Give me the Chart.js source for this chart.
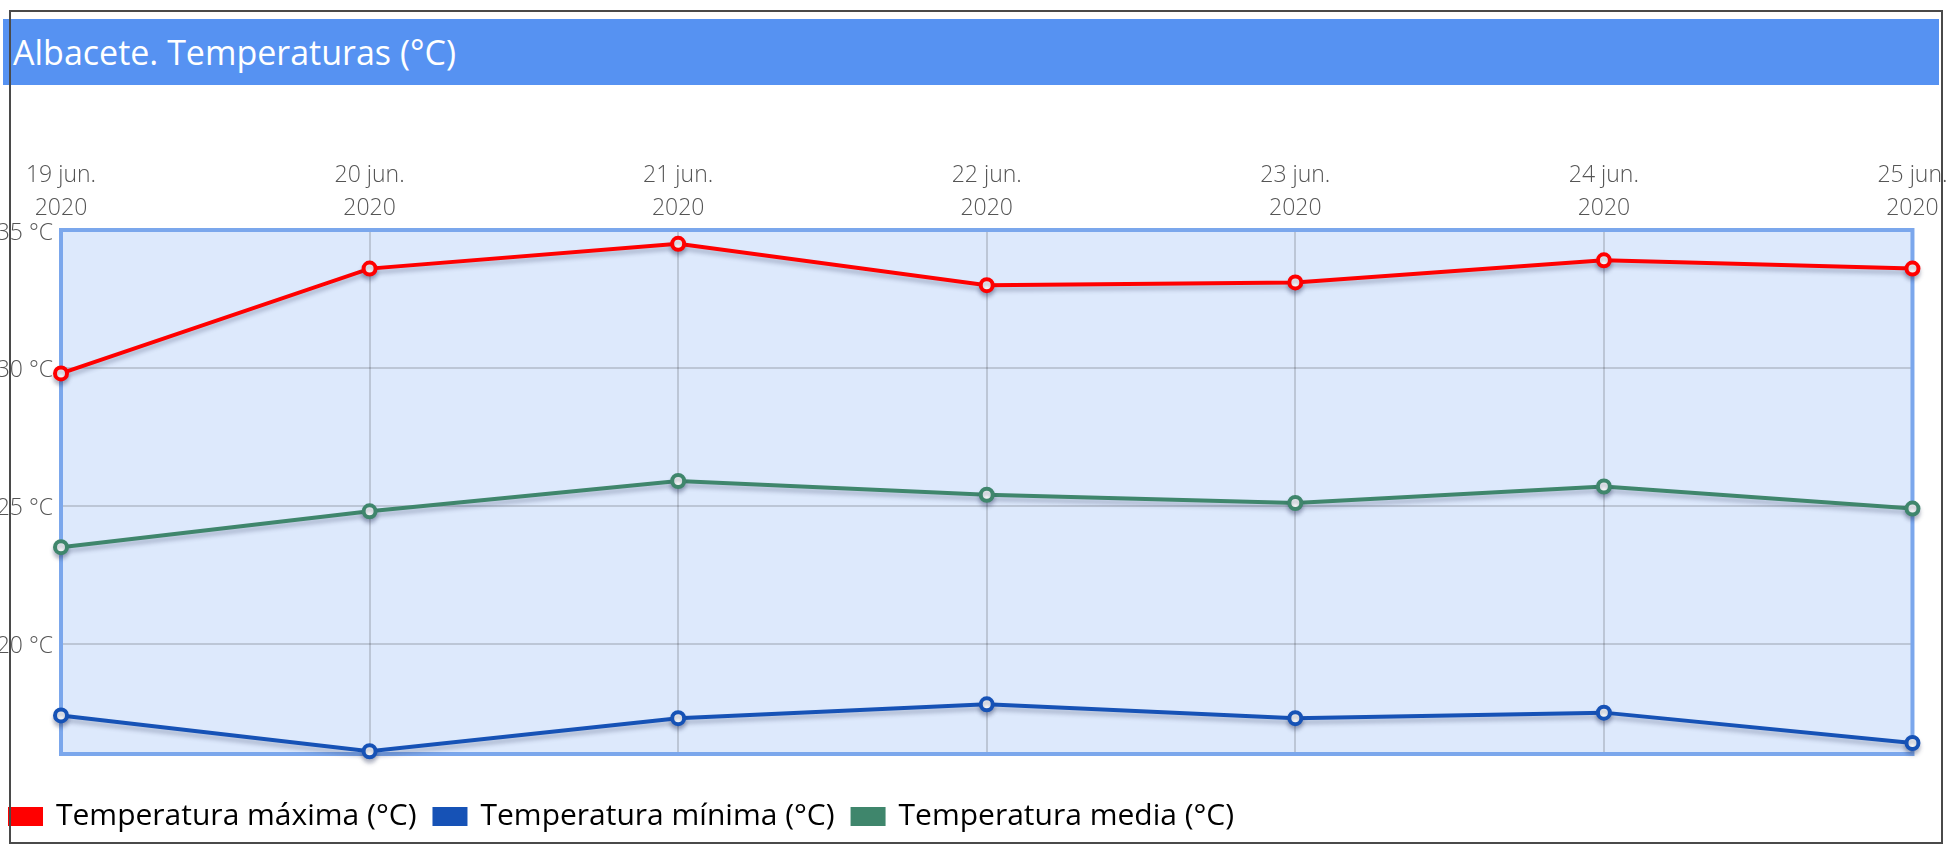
<!DOCTYPE html>
<html>
<head>
<meta charset="utf-8">
<script src="https://cdn.jsdelivr.net/npm/chart.js@4"></script>
<style>
  html, body { margin: 0; padding: 0; background: #fff; }
  body { width: 1953px; height: 854px; position: relative; overflow: hidden; font-family: "Open Sans", sans-serif; }
  #titulo {
    position: absolute; left: 3px; top: 19px; width: 1936px; height: 66px;
    background: #5692f2; color: #fff; font-size: 34px; line-height: 66px;
    padding-left: 10px; box-sizing: border-box; z-index: 1;
  }
  #marco {
    position: absolute; left: 9px; top: 10px; width: 1934px; height: 834px;
    border: 2px solid #4a4a4a; box-sizing: border-box; z-index: 2; pointer-events: none;
  }
  #myChart { position: absolute; left: 0; top: 0; }
</style>
</head>
<body>
<div id="titulo">Albacete. Temperaturas (°C)</div>
<div id="marco"></div>
<canvas id="myChart" width="1953" height="854"></canvas>
<script>
const dias = ["19 jun.", "20 jun.", "21 jun.", "22 jun.", "23 jun.", "24 jun.", "25 jun."];
const anio = "2020";
const tempMax = [29.8, 33.6, 34.5, 33.0, 33.1, 33.9, 33.6];
const tempMin = [17.4, 16.1, 17.3, 17.8, 17.3, 17.5, 16.4];
const tempMedia = [23.5, 24.8, 25.9, 25.4, 25.1, 25.7, 24.9];
const yTicks = [20, 25, 30, 35];

Chart.defaults.font.family = "'Open Sans', sans-serif";

// fondo y borde del area del grafico
const fondoPlot = {
  id: "fondoPlot",
  beforeDraw(chart) {
    const { ctx, chartArea: a } = chart;
    ctx.save();
    ctx.fillStyle = "#dde9fc";
    ctx.fillRect(a.left, a.top, a.right - a.left, a.bottom - a.top);
    ctx.restore();
  },
  beforeDatasetsDraw(chart) {
    const { ctx, chartArea: a } = chart;
    ctx.save();
    ctx.strokeStyle = "#7ba7ec";
    ctx.lineWidth = 4;
    ctx.strokeRect(a.left, a.top, a.right - a.left, a.bottom - a.top);
    ctx.restore();
  }
};

// sombra bajo las lineas
const sombra = {
  id: "sombra",
  beforeDatasetDraw(chart) {
    const ctx = chart.ctx;
    ctx.save();
    ctx.shadowColor = "rgba(40, 50, 90, 0.3)";
    ctx.shadowBlur = 4;
    ctx.shadowOffsetY = 4;
  },
  afterDatasetDraw(chart) {
    chart.ctx.restore();
  }
};

function serie(label, data, color) {
  return {
    label: label,
    data: data,
    borderColor: color,
    backgroundColor: color,
    borderWidth: 4,
    pointRadius: 6,
    pointBorderWidth: 4,
    pointBackgroundColor: "#fff",
    pointBorderColor: color,
    tension: 0,
    clip: false
  };
}

const tickFont = { size: 23, weight: "300", lineHeight: 33 / 23 };

new Chart(document.getElementById("myChart"), {
  type: "line",
  data: {
    labels: dias.map(d => [d, anio]),
    datasets: [
      serie("Temperatura máxima (°C)", tempMax, "#ff0000"),
      serie("Temperatura mínima (°C)", tempMin, "#1652b6"),
      serie("Temperatura media (°C)", tempMedia, "#3f866c")
    ]
  },
  options: {
    responsive: false,
    animation: false,
    layout: { padding: { top: 100, left: -8, right: 40, bottom: 12.5 } },
    plugins: {
      tooltip: { enabled: false },
      legend: {
        position: "bottom",
        align: "start",
        labels: {
          boxWidth: 31,
          boxHeight: 15,
          padding: 18,
          color: "#000",
          font: { size: 30 }
        }
      }
    },
    scales: {
      x: {
        position: "top",
        offset: false,
        grid: { color: "rgba(0,0,0,0.15)", lineWidth: 2, drawTicks: false },
        border: { display: false },
        ticks: { color: "#555", font: tickFont, padding: 5.5, maxRotation: 0, autoSkip: false },
        afterFit(s) { s.height = 130; }
      },
      xSep: {
        axis: "x",
        position: "bottom",
        grid: { display: false },
        border: { display: false },
        ticks: { display: false },
        afterFit(s) { s.height = 29.5; }
      },
      y: {
        min: 16,
        max: 35,
        grid: { color: "rgba(0,0,0,0.15)", lineWidth: 2, drawTicks: false },
        border: { display: false },
        afterBuildTicks(s) { s.ticks = yTicks.map(v => ({ value: v })); },
        ticks: {
          color: "#555",
          font: tickFont,
          padding: 8,
          labelOffset: 3,
          callback: v => v + " °C"
        },
        afterFit(s) { s.width = 69; }
      }
    }
  },
  plugins: [fondoPlot, sombra]
});
</script>
</body>
</html>
